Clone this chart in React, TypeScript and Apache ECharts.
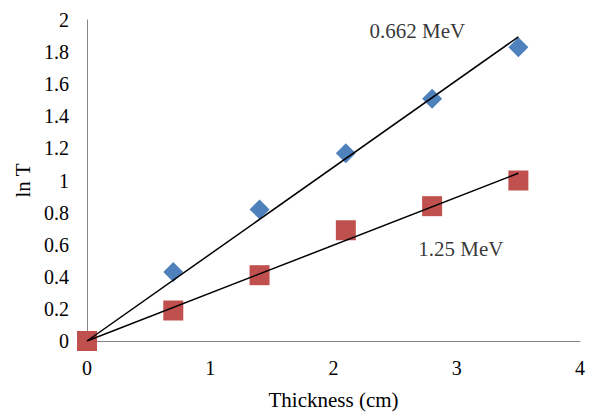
import React, { useEffect, useRef } from "react";
import * as echarts from "echarts";

const thickness = [0, 0.7, 1.4, 2.1, 2.8, 3.5];
const lnT662 = [0, 0.43, 0.82, 1.17, 1.51, 1.83];
const lnT125 = [0, 0.19, 0.41, 0.69, 0.84, 1.0];
const trend662 = [[0, 0], [3.5, 1.895]];
const trend125 = [[0, 0], [3.5, 1.045]];
const annotations = [
  { text: "0.662 MeV", x: 2.68, y: 1.93 },
  { text: "1.25 MeV", x: 3.033, y: 0.576 },
];

const FONT = "'Liberation Serif', 'Times New Roman', serif";

export default function App() {
  const ref = useRef<HTMLDivElement>(null);
  useEffect(() => {
    if (!ref.current) return;
    const chart = echarts.init(ref.current, undefined, { renderer: "svg" });
    const axisLine = { show: true, lineStyle: { color: "#868686", width: 1 } };
    chart.setOption({
      animation: false,
      backgroundColor: "#fff",
      grid: { left: 87, right: 15, top: 20, bottom: 72, containLabel: false },
      xAxis: {
        type: "value",
        min: 0,
        max: 4,
        interval: 1,
        name: "Thickness (cm)",
        nameLocation: "middle",
        nameGap: 48,
        nameTextStyle: { fontFamily: FONT, fontSize: 21, color: "#000" },
        axisLine,
        axisTick: { show: false },
        splitLine: { show: false },
        axisLabel: { fontFamily: FONT, fontSize: 20, color: "#000", margin: 17 },
      },
      yAxis: {
        type: "value",
        min: 0,
        max: 2,
        interval: 0.2,
        name: "ln T",
        nameLocation: "middle",
        nameGap: 52,
        nameTextStyle: { fontFamily: FONT, fontSize: 21, color: "#000" },
        axisLine,
        axisTick: { show: false },
        splitLine: { show: false },
        axisLabel: {
          fontFamily: FONT,
          fontSize: 20,
          color: "#000",
          margin: 18,
          formatter: (v: number) => String(Math.round(v * 10) / 10),
        },
      },
      series: [
        {
          type: "scatter",
          symbol: "diamond",
          symbolSize: 20,
          itemStyle: { color: "#4F81BD", opacity: 1 },
          data: thickness.map((x, i) => [x, lnT662[i]]),
          z: 2,
        },
        {
          type: "scatter",
          symbol: "rect",
          symbolSize: 20,
          itemStyle: { color: "#C0504D", opacity: 1 },
          data: thickness.map((x, i) => [x, lnT125[i]]),
          z: 2,
        },
        {
          type: "line",
          data: trend662,
          symbol: "none",
          lineStyle: { color: "#000", width: 1.5 },
          z: 3,
        },
        {
          type: "line",
          data: trend125,
          symbol: "none",
          lineStyle: { color: "#000", width: 1.5 },
          z: 3,
        },
        {
          type: "scatter",
          symbolSize: 0,
          silent: true,
          data: annotations.map((a) => ({ value: [a.x, a.y], name: a.text })),
          label: {
            show: true,
            position: "inside",
            formatter: (p: any) => p.name,
            fontFamily: FONT,
            fontSize: 21,
            color: "#000",
          },
          z: 4,
        },
      ],
    });
    return () => chart.dispose();
  }, []);
  return <div ref={ref} style={{ width: 595, height: 415, position: "absolute", left: 0, top: 0 }} />;
}
